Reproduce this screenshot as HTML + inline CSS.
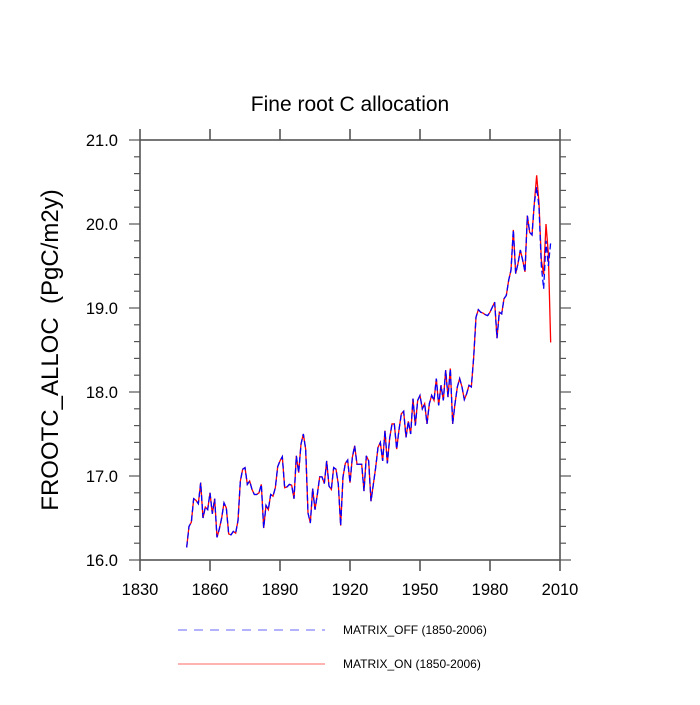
<!DOCTYPE html>
<html><head><meta charset="utf-8"><style>
body{margin:0;background:#fff;}
svg text{font-family:"Liberation Sans",sans-serif;}
</style></head><body>
<svg id="chart" width="700" height="700" xmlns="http://www.w3.org/2000/svg">
<text x="350" y="111" font-size="21" text-anchor="middle">Fine root C allocation</text>
<text transform="translate(58,350) rotate(-90)" font-size="24" text-anchor="middle">FROOTC_ALLOC&#160; (PgC/m2y)</text>
<g id="axes"></g>
<g id="series"></g>
<g>
<line x1="178" y1="630" x2="325" y2="630" stroke="#6666ff" stroke-width="1" stroke-dasharray="9,7"/>
<text x="343" y="634" font-size="12">MATRIX_OFF (1850-2006)</text>
<line x1="178" y1="664" x2="325" y2="664" stroke="#ff6666" stroke-width="1"/>
<text x="343" y="668" font-size="12">MATRIX_ON (1850-2006)</text>
</g>
</svg>
<script>
const startYear = 1850;
const xTicks = [1830,1860,1890,1920,1950,1980,2010];
const yTicks = [16.0,17.0,18.0,19.0,20.0,21.0];
const onValues = [16.15,16.4,16.45,16.73,16.71,16.67,16.92,16.5,16.63,16.6,
16.8,16.55,16.73,16.27,16.37,16.5,16.68,16.62,16.31,16.3,
16.34,16.32,16.47,16.94,17.08,17.1,16.9,16.94,16.84,16.78,
16.78,16.8,16.9,16.38,16.65,16.6,16.78,16.76,16.86,17.11,17.18,
17.23,16.86,16.87,16.9,16.89,16.73,17.24,17.04,17.38,17.5,
17.32,16.56,16.44,16.85,16.6,16.78,16.99,16.99,16.91,17.18,
16.88,16.84,17.1,17.08,16.9,16.41,16.99,17.15,17.19,16.92,17.22,
17.36,17.14,17.14,17.14,16.82,17.24,17.18,
16.7,16.9,17.1,17.34,17.4,17.18,17.54,17.15,17.45,17.62,
17.62,17.32,17.55,17.74,17.77,17.46,17.65,17.5,17.92,17.6,
17.9,17.96,17.8,17.86,17.62,17.86,17.96,17.9,18.16,17.84,18.08,
17.9,18.26,17.94,18.28,17.62,17.86,18.06,18.16,18.06,17.91,
17.98,18.08,18.06,18.41,18.89,18.98,18.95,18.94,18.92,18.91,
18.95,19.01,19.07,18.64,18.95,18.93,19.11,19.15,19.33,
19.45,19.93,19.41,19.53,19.69,19.57,19.43,20.1,19.9,19.87,20.25,20.58,20.25,19.57,19.4,20.0,19.65,18.59];
const offValues = [16.15,16.4,16.45,16.73,16.71,16.67,16.92,16.5,16.63,16.6,
16.8,16.55,16.73,16.27,16.37,16.5,16.68,16.62,16.31,16.3,
16.34,16.32,16.47,16.94,17.08,17.1,16.9,16.94,16.84,16.78,
16.78,16.8,16.9,16.38,16.65,16.6,16.78,16.76,16.86,17.11,17.18,
17.23,16.86,16.87,16.9,16.89,16.73,17.24,17.04,17.38,17.5,
17.32,16.56,16.44,16.85,16.6,16.78,16.99,16.99,16.91,17.18,
16.88,16.84,17.1,17.08,16.9,16.41,16.99,17.15,17.19,16.92,17.22,
17.36,17.14,17.14,17.14,16.82,17.24,17.18,
16.7,16.9,17.1,17.34,17.4,17.18,17.54,17.15,17.45,17.62,
17.62,17.32,17.55,17.74,17.77,17.46,17.65,17.5,17.92,17.6,
17.9,17.96,17.8,17.86,17.62,17.86,17.96,17.9,18.16,17.84,18.08,
17.9,18.26,17.94,18.28,17.62,17.86,18.06,18.16,18.06,17.91,
17.98,18.08,18.06,18.41,18.89,18.98,18.95,18.94,18.92,18.91,
18.95,19.01,19.07,18.64,18.95,18.93,19.11,19.15,19.33,
19.45,19.93,19.41,19.53,19.69,19.57,19.43,20.1,19.9,19.87,20.25,20.44,20.2,19.5,19.23,19.8,19.5,19.78];

const L=140,R=560,T=140,B=560;
const xMin=1830,xMax=2010,yMin=16,yMax=21;
function xs(v){return L+(v-xMin)/(xMax-xMin)*(R-L);}
function ys(v){return B-(v-yMin)/(yMax-yMin)*(B-T);}
const NS='http://www.w3.org/2000/svg';
const axes=document.getElementById('axes');
function mk(tag,attrs,parent){const e=document.createElementNS(NS,tag);for(const k in attrs)e.setAttribute(k,attrs[k]);parent.appendChild(e);return e;}
const frame=mk('rect',{x:L,y:T,width:R-L,height:B-T,fill:'none',stroke:'#555','stroke-width':1.6},axes);


const tc='#555';
xTicks.forEach(t=>{
  const x=xs(t);
  const a=mk('line',{x1:x,y1:B,x2:x,y2:B+11,stroke:tc,'stroke-width':1.6},axes);
  
  
  const b=mk('line',{x1:x,y1:T,x2:x,y2:T-11,stroke:tc,'stroke-width':1.6},axes);
  
  
  const lb=mk('text',{x:x,y:B+35,'font-size':16.5,'text-anchor':'middle'},axes);
  lb.textContent=t;
  
  
});
for(let v=yMin;v<=yMax+1e-6;v+=0.2){
  const y=ys(v);
  const major=Math.abs(v-Math.round(v))<1e-6;
  const len=major?11:6;
  const a=mk('line',{x1:L-len,y1:y,x2:L,y2:y,stroke:tc,'stroke-width':1.2},axes);
  
  
  const b=mk('line',{x1:R,y1:y,x2:R+len,y2:y,stroke:tc,'stroke-width':1.2},axes);
  
  
}
yTicks.forEach(t=>{
  const lb=mk('text',{x:L-22,y:ys(t)+6,'font-size':16.5,'text-anchor':'end'},axes);
  lb.textContent=t.toFixed(1);
  
  
});
const series=document.getElementById('series');
function pts(arr){return arr.map((v,i)=>xs(startYear+i).toFixed(2)+','+ys(v).toFixed(2)).join(' ');}
const on=mk('polyline',{points:pts(onValues),fill:'none',stroke:'#ff0000','stroke-width':1.3},series);


const off=mk('polyline',{points:pts(offValues),fill:'none',stroke:'#0000ff','stroke-width':1.3,'stroke-dasharray':'6,3'},series);


</script>
</body></html>
